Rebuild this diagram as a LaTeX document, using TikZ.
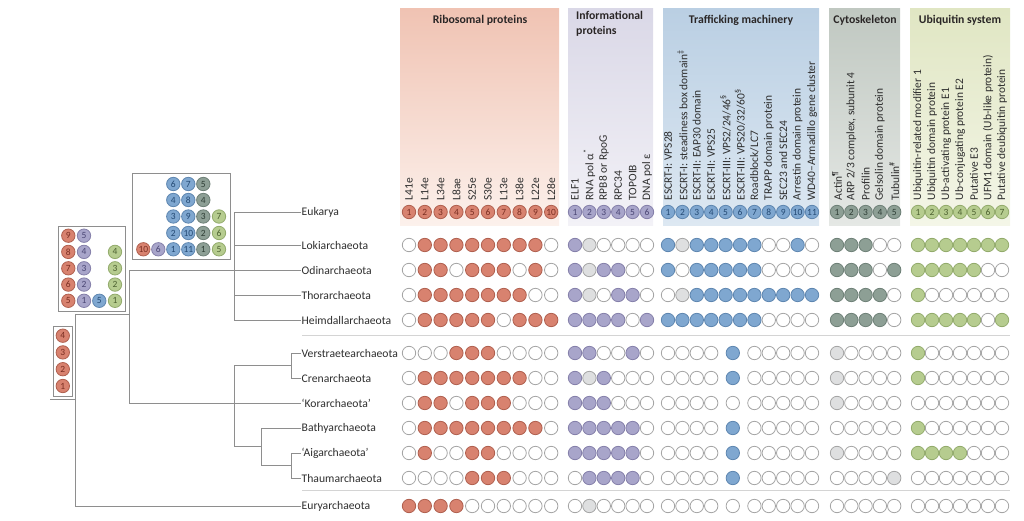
\documentclass[tikz,border=0pt]{standalone}
\usepackage{fontspec}
\setmainfont{Carlito}
\definecolor{riboF}{HTML}{D8826F}\definecolor{riboD}{HTML}{B0604F}\definecolor{riboT}{HTML}{7A2E22}
\definecolor{infoF}{HTML}{A8A5CA}\definecolor{infoD}{HTML}{8580AA}\definecolor{infoT}{HTML}{4A4674}
\definecolor{trafF}{HTML}{7FA7D0}\definecolor{trafD}{HTML}{5E86B0}\definecolor{trafT}{HTML}{244A74}
\definecolor{cytoF}{HTML}{8D9F95}\definecolor{cytoD}{HTML}{6E8077}\definecolor{cytoT}{HTML}{2F3F36}
\definecolor{ubiF}{HTML}{B6CC8F}\definecolor{ubiD}{HTML}{93AB6C}\definecolor{ubiT}{HTML}{4C6030}
\definecolor{emptyD}{HTML}{A5A5A5}\definecolor{lightF}{HTML}{DEDFE0}
\definecolor{treeC}{HTML}{8E8E8E}\definecolor{sepC}{HTML}{D4D4D4}
\definecolor{txt}{HTML}{2E2E2E}\definecolor{titc}{HTML}{2A2626}
\definecolor{riboTop}{HTML}{F0C3B3}\definecolor{riboBot}{HTML}{FCF1EC}
\definecolor{infoTop}{HTML}{DAD8E7}\definecolor{infoBot}{HTML}{F3F2F7}
\definecolor{trafTop}{HTML}{BACFE3}\definecolor{trafBot}{HTML}{DDE8F2}
\definecolor{cytoTop}{HTML}{C0C8C1}\definecolor{cytoBot}{HTML}{E5E8E5}
\definecolor{ubiTop}{HTML}{E0E6C3}\definecolor{ubiBot}{HTML}{F4F6E8}
\tikzset{
 dot/.style={circle,minimum size=13.4bp,inner sep=0pt,line width=0.8bp},
 num/.style={font=\fontsize{9.5}{9.5}\selectfont},
 taxon/.style={anchor=west,inner sep=0.5bp,font=\fontsize{11.7}{13}\selectfont,text=txt},
 collab/.style={rotate=90,anchor=west,inner sep=0pt,font=\fontsize{11.5}{12}\selectfont,text=txt},
 title/.style={font=\bfseries\fontsize{11.8}{15}\selectfont,text=titc},
 tree/.style={draw=treeC,line width=0.9bp},
 sep/.style={draw=sepC,line width=0.9bp},
 frame/.style={draw=treeC,line width=0.8bp},
}
% data circles
\newcommand\grp[6]{%
 \foreach \vv [count=\ix from 0] in {#5}{%
   \ifcase\vv\relax\def\fc{white}\def\dc{emptyD}\or\def\fc{#1F}\def\dc{#1D}\or\def\fc{lightF}\def\dc{emptyD}\fi
   \node[dot,draw=\dc,fill=\fc] (#6-#1-\ix) at ({#2+#3*\ix},#4) {};}}
\newcommand\drow[7]{%
 \grp{ribo}{409}{15.8}{#2}{#3}{#1}%
 \grp{info}{575}{14.4}{#2}{#4}{#1}%
 \grp{traf}{668}{14.4}{#2}{#5}{#1}%
 \grp{cyto}{837}{14.3}{#2}{#6}{#1}%
 \grp{ubi}{918}{14}{#2}{#7}{#1}}
\newcommand\drowlow[7]{%
 \grp{ribo}{409}{15.8}{#2}{#3}{#1}%
 \grp{info}{575}{14.4}{#2}{#4}{#1}%
 \grp{traf}{668}{14.4}{#2}{0,0,0,0}{#1a}%
 \grp{traf}{732.8}{0}{#2}{#5}{#1b}%
 \grp{traf}{754.4}{14.4}{#2}{0,0,0,0,0}{#1c}%
 \grp{cyto}{837}{14.3}{#2}{#6}{#1}%
 \grp{ubi}{918}{14}{#2}{#7}{#1}}
% header numbered circles
\newcommand\hdr[4]{%
 \foreach \nn [count=\ix from 0] in {1,...,#4}{%
   \node[dot,num,draw=#1D,fill=#1F,text=#1T] (h#1-\nn) at ({#2+#3*\ix},212) {\nn};}}
\newcommand\labs[4]{%
 \foreach \lab [count=\ix from 0] in {#4}{%
   \node[collab] (l#1-\ix) at ({#2+#3*\ix},200.5) {\lab};}}
% numbered circle in the boxes
\newcommand\bc[5]{\node[dot,num,draw=#4D,fill=#4F,text=#4T] (#1) at (#2,#3) {#5};}
\begin{document}
\begin{tikzpicture}[x=1bp,y=-1bp]
\useasboundingbox (0,0) rectangle (1024,521);
% header panels
\shade[top color=riboTop,bottom color=riboBot] (400,9) rectangle (559,226);
\shade[top color=infoTop,bottom color=infoBot] (568,9) rectangle (653,226);
\shade[top color=trafTop,bottom color=trafBot] (663,9) rectangle (819,226);
\shade[top color=cytoTop,bottom color=cytoBot] (829,9) rectangle (900,226);
\shade[top color=ubiTop,bottom color=ubiBot] (910,9) rectangle (1010,226);
\node[title] (tribo) at (480,20) {Ribosomal proteins};
\node[title,align=left,anchor=north west,inner sep=0pt] (tinfo) at (576,11) {Informational\\proteins};
\node[title] (ttraf) at (741,20) {Trafficking machinery};
\node[title] (tcyto) at (865,20) {Cytoskeleton};
\node[title] (tubi) at (960,20) {Ubiquitin system};
% column labels
\labs{ribo}{409}{15.8}{L41e,L14e,L34e,L8ae,S25e,S30e,L13e,L38e,L22e,L28e}
\labs{info}{575}{14.4}{ELF1,RNA pol α\textsuperscript{*},RPB8 or RpoG,RPC34,TOPOIB,DNA pol ε}
\labs{traf}{668}{14.4}{ESCRT-I: VPS28,ESCRT-I: steadiness box domain\textsuperscript{‡},ESCRT-II: EAP30 domain,ESCRT-II: VPS25,ESCRT-III: VPS2/24/46\textsuperscript{§},ESCRT-III: VPS20/32/60\textsuperscript{§},Roadblock/LC7,TRAPP domain protein,SEC23 and SEC24,Arrestin domain protein,WD40–Armadillo gene cluster}
\labs{cyto}{837}{14.3}{Actin\textsuperscript{¶},{ARP 2/3 complex, subunit 4},Profilin,Gelsolin domain protein,Tubulin\textsuperscript{\#}}
\labs{ubi}{918}{14}{Ubiquitin-related modifier 1,Ubiquitin domain protein,Ub-activating protein E1,Ub-conjugating protein E2,Putative E3,UFM1 domain (Ub-like protein),Putative deubiquitin protein}
% Eukarya row
\hdr{ribo}{409}{15.8}{10}
\hdr{info}{575}{14.4}{6}
\hdr{traf}{668}{14.4}{11}
\hdr{cyto}{837}{14.3}{5}
\hdr{ubi}{918}{14}{7}
% data rows
\drow{loki}{245}{0,1,1,1,1,1,1,1,1,0}{1,2,0,0,0,0}{1,2,1,1,1,1,1,0,0,1,0}{1,1,1,0,0}{1,1,1,1,1,1,1}
\drow{odin}{270}{0,1,1,0,1,1,1,0,1,0}{1,2,1,1,0,0}{1,0,1,1,1,1,1,0,0,0,0}{1,1,1,0,1}{1,1,1,1,1,0,0}
\drow{thor}{295}{0,1,1,1,1,1,1,1,0,0}{1,2,0,1,1,0}{0,2,1,1,1,1,1,1,1,1,1}{1,1,1,1,0}{1,0,0,0,0,0,0}
\drow{heim}{320}{0,1,1,1,1,1,0,1,1,1}{1,1,1,1,0,1}{1,1,1,1,1,1,1,0,0,0,0}{1,1,1,1,0}{1,1,1,1,1,0,1}
\drowlow{vers}{353}{0,0,0,1,1,1,0,0,0,0}{1,1,0,0,1,0}{1}{2,0,0,0,0}{1,0,0,0,0,0,0}
\drowlow{cren}{378}{0,1,1,1,1,1,1,1,0,0}{1,2,1,0,0,0}{1}{2,0,0,0,0}{1,0,0,0,0,0,0}
\drowlow{kor}{403}{0,1,1,0,1,1,1,0,0,0}{1,1,1,0,0,0}{0}{2,0,0,0,0}{0,0,0,0,0,0,0}
\drowlow{bath}{428}{0,1,1,1,1,1,1,1,1,0}{1,1,1,1,1,0}{1}{0,0,0,0,0}{1,0,0,0,0,0,0}
\drowlow{aig}{453}{0,1,0,0,1,1,0,0,0,0}{1,1,1,1,1,0}{1}{2,0,0,0,0}{1,1,1,1,0,0,0}
\drowlow{thau}{478}{0,0,0,0,1,1,1,0,0,0}{0,1,1,1,1,0}{1}{0,0,0,0,2}{0,0,0,0,0,0,0}
\drowlow{eury}{506}{1,1,1,1,0,0,0,0,0,0}{0,2,0,0,0,0}{0}{0,0,0,0,0}{0,0,0,0,0,0,0}
% separators
\draw[sep] (302,335.5) -- (1010,335.5);
\draw[sep] (302,490.5) -- (1010,490.5);
% taxon labels
\node[taxon] (euk) at (301,212) {Eukarya};
\node[taxon] (loki) at (301,245) {Lokiarchaeota};
\node[taxon] (odin) at (301,270) {Odinarchaeota};
\node[taxon] (thor) at (301,295) {Thorarchaeota};
\node[taxon] (heim) at (301,320) {Heimdallarchaeota};
\node[taxon] (vers) at (301,353) {Verstraetearchaeota};
\node[taxon] (cren) at (301,378) {Crenarchaeota};
\node[taxon] (kor) at (301,403) {‘Korarchaeota’};
\node[taxon] (bath) at (301,428) {Bathyarchaeota};
\node[taxon] (aig) at (301,453) {‘Aigarchaeota’};
\node[taxon] (thau) at (301,478) {Thaumarchaeota};
\node[taxon] (eury) at (301,506) {Euryarchaeota};
% tree
\coordinate (root) at (50,399);
\draw[tree] (root) -- (75,399);
\draw[tree] (75,314) -- (75,506) -- (eury.west);
\draw[tree] (75,314) -- (129,314);
\draw[tree] (odin.west) -- (129,270) -- (129,403) -- (kor.west);
\draw[tree] (euk.west) -- (234,212) -- (234,320) -- (heim.west);
\draw[tree] (234,245) -- (loki.west);
\draw[tree] (234,295) -- (thor.west);
\draw[tree] (234,365.5) -- (234,446.75);
\draw[tree] (234,365.5) -- (291.7,365.5);
\draw[tree] (vers.west) -- (291.7,353) -- (291.7,378) -- (cren.west);
\draw[tree] (234,446.75) -- (261.7,446.75);
\draw[tree] (bath.west) -- (261.7,428) -- (261.7,465.5) -- (291.7,465.5);
\draw[tree] (aig.west) -- (291.7,453) -- (291.7,478) -- (thau.west);
% box A
\draw[frame,fill=white] (132.7,173.3) rectangle (230.7,259);
\bc{a1}{173.3}{184}{traf}{6}\bc{a2}{188.3}{184}{traf}{7}\bc{a3}{203.3}{184}{cyto}{5}
\bc{a4}{173.3}{200}{traf}{4}\bc{a5}{188.3}{200}{traf}{8}\bc{a6}{203.3}{200}{cyto}{4}
\bc{a7}{173.3}{216.5}{traf}{3}\bc{a8}{188.3}{216.5}{traf}{9}\bc{a9}{203.3}{216.5}{cyto}{3}\bc{a10}{219}{216.5}{ubi}{7}
\bc{a11}{173.3}{233}{traf}{2}\bc{a12}{188.3}{233}{traf}{10}\bc{a13}{203.3}{233}{cyto}{2}\bc{a14}{219}{233}{ubi}{6}
\bc{a15}{143.3}{249.3}{ribo}{10}\bc{a16}{158.3}{249.3}{info}{6}\bc{a17}{173.3}{249.3}{traf}{1}\bc{a18}{188.3}{249.3}{traf}{11}\bc{a19}{203.3}{249.3}{cyto}{1}\bc{a20}{219}{249.3}{ubi}{5}
% box B
\draw[frame,fill=white] (58.3,226) rectangle (125,311.7);
\bc{b1}{68.3}{235.7}{ribo}{9}\bc{b2}{84}{235.7}{info}{5}
\bc{b3}{68.3}{251.9}{ribo}{8}\bc{b4}{84}{251.9}{info}{4}\bc{b5}{115}{251.9}{ubi}{4}
\bc{b6}{68.3}{268.3}{ribo}{7}\bc{b7}{84}{268.3}{info}{3}\bc{b8}{115}{268.3}{ubi}{3}
\bc{b9}{68.3}{284.6}{ribo}{6}\bc{b10}{84}{284.6}{info}{2}\bc{b11}{115}{284.6}{ubi}{2}
\bc{b12}{68.3}{300.8}{ribo}{5}\bc{b13}{84}{300.8}{info}{1}\bc{b14}{99.3}{300.8}{traf}{5}\bc{b15}{115}{300.8}{ubi}{1}
% box C
\draw[frame,fill=white] (53.3,326) rectangle (72.3,396.7);
\bc{c1}{62.8}{335.7}{ribo}{4}\bc{c2}{62.8}{352.4}{ribo}{3}\bc{c3}{62.8}{369.2}{ribo}{2}\bc{c4}{62.8}{386}{ribo}{1}
\end{tikzpicture}
\end{document}
